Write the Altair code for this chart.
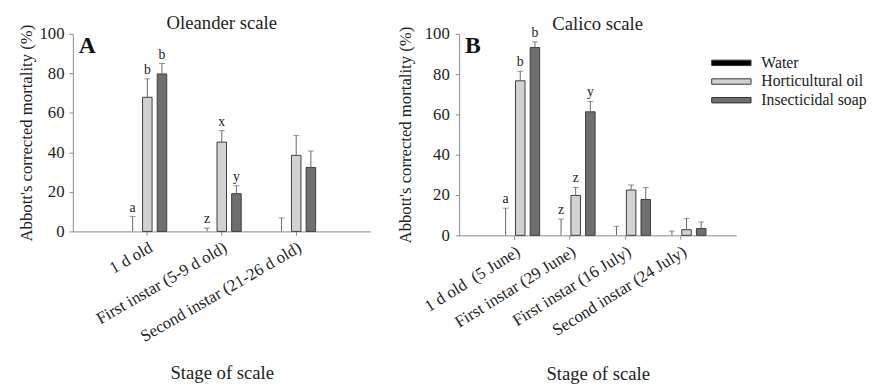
import altair as alt
import pandas as pd

treatments = ["Water", "Horticultural oil", "Insecticidal soap"]
colors = ["#000000", "#d2d2d2", "#6f6f6f"]

stages_A = ["1 d old", "First instar (5-9 d old)", "Second instar (21-26 d old)"]
water_A = [0, 0, 0]
water_err_A = [7.5, 1.7, 6.8]
oil_A = [67.9, 45.2, 38.5]
oil_err_A = [77.2, 51.0, 48.5]
soap_A = [79.7, 19.1, 32.4]
soap_err_A = [85.0, 23.1, 40.7]
water_let_A = ["a", "z", ""]
oil_let_A = ["b", "x", ""]
soap_let_A = ["b", "y", ""]

stages_B = ["1 d old\u00a0 (5 June)", "First instar (29 June)", "First instar (16 July)", "Second instar (24 July)"]
water_B = [0, 0, 0, 0]
water_err_B = [13.5, 8.1, 4.5, 2.1]
oil_B = [76.7, 19.8, 22.5, 2.8]
oil_err_B = [81.4, 23.8, 25.0, 8.4]
soap_B = [93.2, 61.3, 17.8, 3.4]
soap_err_B = [96.0, 66.5, 23.7, 6.6]
water_let_B = ["a", "z", "", ""]
oil_let_B = ["b", "z", "", ""]
soap_let_B = ["b", "y", "", ""]

FONT = "Liberation Serif"


def make_df(stages, vals, errs, lets):
    rows = []
    for t, v, e, l in zip(treatments, vals, errs, lets):
        for s, vv, ee, ll in zip(stages, v, e, l):
            rows.append({"stage": s, "treatment": t, "value": vv, "err": ee, "letter": ll})
    return pd.DataFrame(rows)


def panel(df, stages, width, height, title, tag, legend, angle, lab_pad, ttl_pad, xttl_pad, title_off):
    x = alt.X("stage:N", sort=stages,
              scale=alt.Scale(paddingInner=0.4, paddingOuter=0.7),
              axis=alt.Axis(title="Stage of scale", labelAngle=angle, labelFontSize=17,
                            labelFont=FONT, titleFont=FONT, labelLimit=0,
                            titleFontSize=19, titleFontWeight="normal", titlePadding=xttl_pad,
                            tickSize=4, labelPadding=4, domainColor="#8a8a8a", tickColor="#8a8a8a",
                            labelColor="#222", titleColor="#222"))
    xo = alt.XOffset("treatment:N", sort=treatments,
                     scale=alt.Scale(paddingInner=0.35, paddingOuter=0.2))
    y = alt.Y("value:Q", scale=alt.Scale(domain=[0, 100]),
              axis=alt.Axis(title="Abbott's corrected mortality (%)", values=[0, 20, 40, 60, 80, 100],
                            labelFont=FONT, titleFont=FONT,
                            grid=False, labelFontSize=17, titleFontSize=17, titleFontWeight="normal",
                            tickSize=4, labelPadding=lab_pad, titlePadding=ttl_pad,
                            domainColor="#8a8a8a", tickColor="#8a8a8a", labelColor="#222",
                            titleColor="#222"))
    color = alt.Color("treatment:N", sort=treatments,
                      scale=alt.Scale(domain=treatments, range=colors), legend=legend)
    base = alt.Chart(df)
    bars = base.transform_filter("datum.value > 0").mark_bar(stroke="#3c3c3c", strokeWidth=1).encode(
        x=x, xOffset=xo, y=y, color=color)
    rules = base.mark_rule(color="#666", strokeWidth=1).encode(
        x=x, xOffset=xo, y="value:Q", y2="err:Q")
    caps = base.mark_tick(color="#666", thickness=1, size=6).encode(x=x, xOffset=xo, y="err:Q")
    lets = base.mark_text(font=FONT, fontSize=14, baseline="bottom", dy=-2, color="#222").encode(
        x=x, xOffset=xo, y="err:Q", text="letter:N")
    tagc = alt.Chart(pd.DataFrame({"t": [tag]})).mark_text(
        font=FONT, fontSize=24, fontWeight="bold", align="left", baseline="alphabetic", color="#111"
    ).encode(x=alt.value(6), y=alt.value(19), text="t:N")
    return alt.layer(bars, rules, caps, lets, tagc).properties(
        width=width, height=height,
        title=alt.TitleParams(title, fontSize=19, fontWeight="normal", font=FONT, color="#222",
                              offset=title_off))


dfA = make_df(stages_A, [water_A, oil_A, soap_A], [water_err_A, oil_err_A, soap_err_A],
              [water_let_A, oil_let_A, soap_let_A])
dfB = make_df(stages_B, [water_B, oil_B, soap_B], [water_err_B, oil_err_B, soap_err_B],
              [water_let_B, oil_let_B, soap_let_B])

legB = alt.Legend(orient="none", legendX=267, legendY=19.5, title=None,
                  symbolType="M-2.105,-0.29H2.105V0.29H-2.105Z", symbolSize=361,
                  symbolStrokeColor="#333", symbolStrokeWidth=1, symbolOpacity=1,
                  labelFont=FONT, labelFontSize=16, labelColor="#222", labelOffset=20.5,
                  labelLimit=0, rowPadding=1, padding=0)

A = panel(dfA, stages_A, 303, 201, "Oleander scale", "A", None, -30, 5, 4, 20, -9)
B = panel(dfB, stages_B, 282, 205, "Calico scale", "B", legB, -32, 6, 10, 27, -9)

chart = alt.hconcat(A, B, spacing=26).resolve_scale(color="independent").resolve_legend(
    color="independent").properties(
    padding={"left": 9, "top": 3, "right": 0, "bottom": 0}
).configure(font=FONT).configure_view(stroke=None).configure_axis(
    labelFont=FONT, titleFont=FONT).configure_title(font=FONT).configure_legend(
    labelFont=FONT, titleFont=FONT).configure_text(font=FONT)

chart.save("out.html", embed_options={"renderer": "svg", "actions": False})
